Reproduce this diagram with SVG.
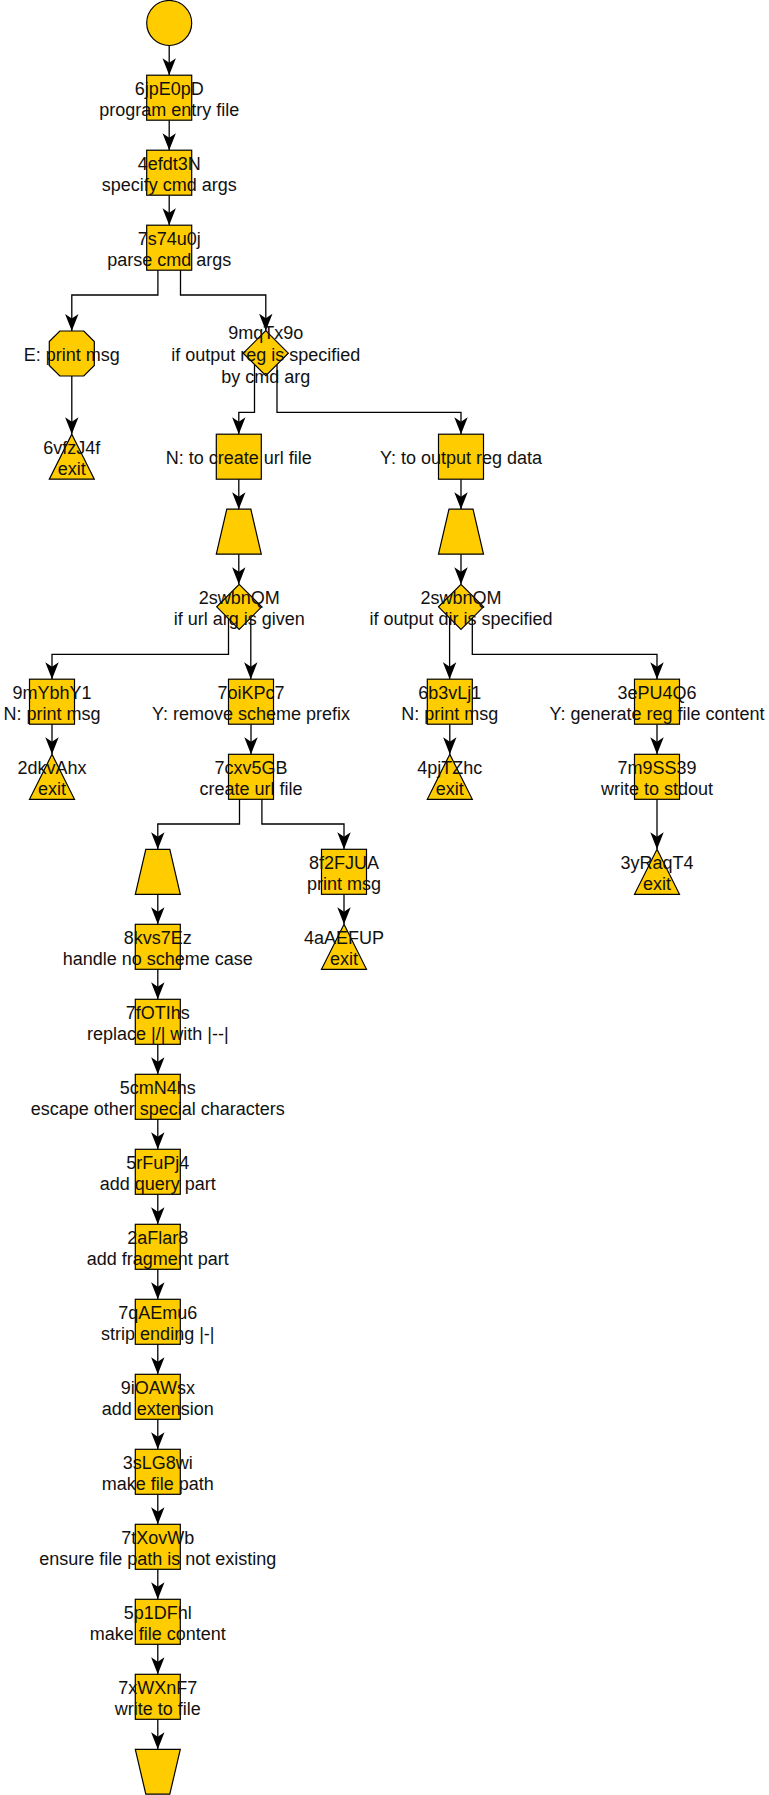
<svg xmlns="http://www.w3.org/2000/svg" width="769" height="1795" viewBox="0 0 769 1795">
<style>
.n{fill:#FFCC00;stroke:#000;stroke-width:1.2}
.t{font-family:"Liberation Sans",Arial,sans-serif;font-size:18px;fill:#111;text-anchor:middle}
.e{fill:none;stroke:#000;stroke-width:1.3;marker-end:url(#arr)}
</style>
<defs>
<marker id="arr" markerUnits="userSpaceOnUse" markerWidth="17" markerHeight="14" viewBox="-17 -7 17 14" refX="0" refY="0" orient="auto">
<path d="M0,0 L-17,-6.7 L-12.5,0 L-17,6.7 Z" fill="#000"/>
</marker>
</defs>
<rect width="769" height="1795" fill="#fff"/>
<g id="connectors">
<path class="e" d="M169.2,45.5 V75.2"/>
<path class="e" d="M169.2,120.2 V150.2"/>
<path class="e" d="M169.2,195.2 V225.2"/>
<path class="e" d="M157.9,270.2 V295 H71.8 V331"/>
<path class="e" d="M180.5,270.2 V295 H265.8 V330.7"/>
<path class="e" d="M71.8,376 V434.2"/>
<path class="e" d="M254.5,364.5 V412.3 H238.8 V434.2"/>
<path class="e" d="M277,364.5 V412.3 H461 V434.2"/>
<path class="e" d="M238.8,479.2 V509.2"/>
<path class="e" d="M461,479.2 V509.2"/>
<path class="e" d="M238.8,554.2 V584.3"/>
<path class="e" d="M461,554.2 V584.3"/>
<path class="e" d="M228.5,618 V654.3 H52 V679.2"/>
<path class="e" d="M250.8,618 V679.2"/>
<path class="e" d="M449.6,618 V679.2"/>
<path class="e" d="M472.3,618 V654.3 H657 V679.2"/>
<path class="e" d="M52,724.2 V754.3"/>
<path class="e" d="M251,724.2 V754.3"/>
<path class="e" d="M449.8,724.2 V754.3"/>
<path class="e" d="M657,724.2 V754.3"/>
<path class="e" d="M657,799.3 V849.3"/>
<path class="e" d="M239.5,799.3 V824 H157.8 V849.3"/>
<path class="e" d="M261.9,799.3 V824 H344 V849.3"/>
<path class="e" d="M157.8,894.3 V924.3"/>
<path class="e" d="M344,894.3 V924.3"/>
<path class="e" d="M157.8,969.3 V999.3"/>
<path class="e" d="M157.8,1044.3 V1074.3"/>
<path class="e" d="M157.8,1119.3 V1149.3"/>
<path class="e" d="M157.8,1194.3 V1224.3"/>
<path class="e" d="M157.8,1269.3 V1299.3"/>
<path class="e" d="M157.8,1344.3 V1374.3"/>
<path class="e" d="M157.8,1419.3 V1449.3"/>
<path class="e" d="M157.8,1494.3 V1524.3"/>
<path class="e" d="M157.8,1569.3 V1599.3"/>
<path class="e" d="M157.8,1644.3 V1674.3"/>
<path class="e" d="M157.8,1719.3 V1749.3"/>
</g>
<g id="start"><circle class="n" cx="169.2" cy="23" r="22.5"/></g>
<g id="n6jpE0pD"><rect class="n" x="146.7" y="75.2" width="45" height="45"/><text class="t" x="169.2" y="94.6">6jpE0pD</text><text class="t" x="169.2" y="116.3">program entry file</text></g>
<g id="n4efdt3N"><rect class="n" x="146.7" y="150.2" width="45" height="45"/><text class="t" x="169.2" y="169.6">4efdt3N</text><text class="t" x="169.2" y="191.3">specify cmd args</text></g>
<g id="n7s74u0j"><rect class="n" x="146.7" y="225.2" width="45" height="45"/><text class="t" x="169.2" y="244.6">7s74u0j</text><text class="t" x="169.2" y="266.3">parse cmd args</text></g>
<g id="nEprint"><polygon class="n" points="59.8,331 83.8,331 94.3,341.5 94.3,365.5 83.8,376 59.8,376 49.3,365.5 49.3,341.5"/><text class="t" x="71.8" y="361.2">E: print msg</text></g>
<g id="n9mqTx9o"><polygon class="n" points="265.8,330.7 288.3,353.2 265.8,375.7 243.3,353.2"/><text class="t" x="265.8" y="339.4">9mqTx9o</text><text class="t" x="265.8" y="361.1">if output reg is specified</text><text class="t" x="265.8" y="382.8">by cmd arg</text></g>
<g id="n6vfzJ4f"><polygon class="n" points="71.8,434.2 94.3,479.2 49.3,479.2"/><text class="t" x="71.8" y="453.6">6vfzJ4f</text><text class="t" x="71.8" y="475.3">exit</text></g>
<g id="nNcreate"><rect class="n" x="216.3" y="434.2" width="45" height="45"/><text class="t" x="238.8" y="464.4">N: to create url file</text></g>
<g id="nYoutput"><rect class="n" x="438.5" y="434.2" width="45" height="45"/><text class="t" x="461" y="464.4">Y: to output reg data</text></g>
<g id="trapA"><polygon class="n" points="226.8,509.2 250.8,509.2 261.3,554.2 216.3,554.2"/></g>
<g id="trapB"><polygon class="n" points="449,509.2 473,509.2 483.5,554.2 438.5,554.2"/></g>
<g id="n2swbnQM_a"><polygon class="n" points="239.2,584.3 261.7,606.8 239.2,629.3 216.7,606.8"/><text class="t" x="239.2" y="603.7">2swbnQM</text><text class="t" x="239.2" y="625.4">if url arg is given</text></g>
<g id="n2swbnQM_b"><polygon class="n" points="461,584.3 483.5,606.8 461,629.3 438.5,606.8"/><text class="t" x="461" y="603.7">2swbnQM</text><text class="t" x="461" y="625.4">if output dir is specified</text></g>
<g id="n9mYbhY1"><rect class="n" x="29.5" y="679.2" width="45" height="45"/><text class="t" x="52" y="698.6">9mYbhY1</text><text class="t" x="52" y="720.3">N: print msg</text></g>
<g id="n7oiKPc7"><rect class="n" x="228.5" y="679.2" width="45" height="45"/><text class="t" x="251" y="698.6">7oiKPc7</text><text class="t" x="251" y="720.3">Y: remove scheme prefix</text></g>
<g id="n6b3vLj1"><rect class="n" x="427.3" y="679.2" width="45" height="45"/><text class="t" x="449.8" y="698.6">6b3vLj1</text><text class="t" x="449.8" y="720.3">N: print msg</text></g>
<g id="n3ePU4Q6"><rect class="n" x="634.5" y="679.2" width="45" height="45"/><text class="t" x="657" y="698.6">3ePU4Q6</text><text class="t" x="657" y="720.3">Y: generate reg file content</text></g>
<g id="n2dkvAhx"><polygon class="n" points="52,754.3 74.5,799.3 29.5,799.3"/><text class="t" x="52" y="773.7">2dkvAhx</text><text class="t" x="52" y="795.4">exit</text></g>
<g id="n7cxv5GB"><rect class="n" x="228.5" y="754.3" width="45" height="45"/><text class="t" x="251" y="773.7">7cxv5GB</text><text class="t" x="251" y="795.4">create url file</text></g>
<g id="n4pjTZhc"><polygon class="n" points="449.8,754.3 472.3,799.3 427.3,799.3"/><text class="t" x="449.8" y="773.7">4pjTZhc</text><text class="t" x="449.8" y="795.4">exit</text></g>
<g id="n7m9SS39"><rect class="n" x="634.5" y="754.3" width="45" height="45"/><text class="t" x="657" y="773.7">7m9SS39</text><text class="t" x="657" y="795.4">write to stdout</text></g>
<g id="trapC"><polygon class="n" points="145.8,849.3 169.8,849.3 180.3,894.3 135.3,894.3"/></g>
<g id="n8f2FJUA"><rect class="n" x="321.5" y="849.3" width="45" height="45"/><text class="t" x="344" y="868.7">8f2FJUA</text><text class="t" x="344" y="890.4">print msg</text></g>
<g id="n3yRaqT4"><polygon class="n" points="657,849.3 679.5,894.3 634.5,894.3"/><text class="t" x="657" y="868.7">3yRaqT4</text><text class="t" x="657" y="890.4">exit</text></g>
<g id="n8kvs7Ez"><rect class="n" x="135.3" y="924.3" width="45" height="45"/><text class="t" x="157.8" y="943.7">8kvs7Ez</text><text class="t" x="157.8" y="965.4">handle no scheme case</text></g>
<g id="n4aAEFUP"><polygon class="n" points="344,924.3 366.5,969.3 321.5,969.3"/><text class="t" x="344" y="943.7">4aAEFUP</text><text class="t" x="344" y="965.4">exit</text></g>
<g id="n7fOTIhs"><rect class="n" x="135.3" y="999.3" width="45" height="45"/><text class="t" x="157.8" y="1018.7">7fOTIhs</text><text class="t" x="157.8" y="1040.4">replace |/| with |--|</text></g>
<g id="n5cmN4hs"><rect class="n" x="135.3" y="1074.3" width="45" height="45"/><text class="t" x="157.8" y="1093.7">5cmN4hs</text><text class="t" x="157.8" y="1115.4">escape other special characters</text></g>
<g id="n5rFuPj4"><rect class="n" x="135.3" y="1149.3" width="45" height="45"/><text class="t" x="157.8" y="1168.7">5rFuPj4</text><text class="t" x="157.8" y="1190.4">add query part</text></g>
<g id="n2aFlar8"><rect class="n" x="135.3" y="1224.3" width="45" height="45"/><text class="t" x="157.8" y="1243.7">2aFlar8</text><text class="t" x="157.8" y="1265.4">add fragment part</text></g>
<g id="n7qAEmu6"><rect class="n" x="135.3" y="1299.3" width="45" height="45"/><text class="t" x="157.8" y="1318.7">7qAEmu6</text><text class="t" x="157.8" y="1340.4">strip ending |-|</text></g>
<g id="n9iOAWsx"><rect class="n" x="135.3" y="1374.3" width="45" height="45"/><text class="t" x="157.8" y="1393.7">9iOAWsx</text><text class="t" x="157.8" y="1415.4">add extension</text></g>
<g id="n3sLG8wi"><rect class="n" x="135.3" y="1449.3" width="45" height="45"/><text class="t" x="157.8" y="1468.7">3sLG8wi</text><text class="t" x="157.8" y="1490.4">make file path</text></g>
<g id="n7tXovWb"><rect class="n" x="135.3" y="1524.3" width="45" height="45"/><text class="t" x="157.8" y="1543.7">7tXovWb</text><text class="t" x="157.8" y="1565.4">ensure file path is not existing</text></g>
<g id="n5p1DFhl"><rect class="n" x="135.3" y="1599.3" width="45" height="45"/><text class="t" x="157.8" y="1618.7">5p1DFhl</text><text class="t" x="157.8" y="1640.4">make file content</text></g>
<g id="n7xWXnF7"><rect class="n" x="135.3" y="1674.3" width="45" height="45"/><text class="t" x="157.8" y="1693.7">7xWXnF7</text><text class="t" x="157.8" y="1715.4">write to file</text></g>
<g id="trapEnd"><polygon class="n" points="135.3,1749.3 180.3,1749.3 169.8,1794.2 145.8,1794.2"/></g>
</svg>
